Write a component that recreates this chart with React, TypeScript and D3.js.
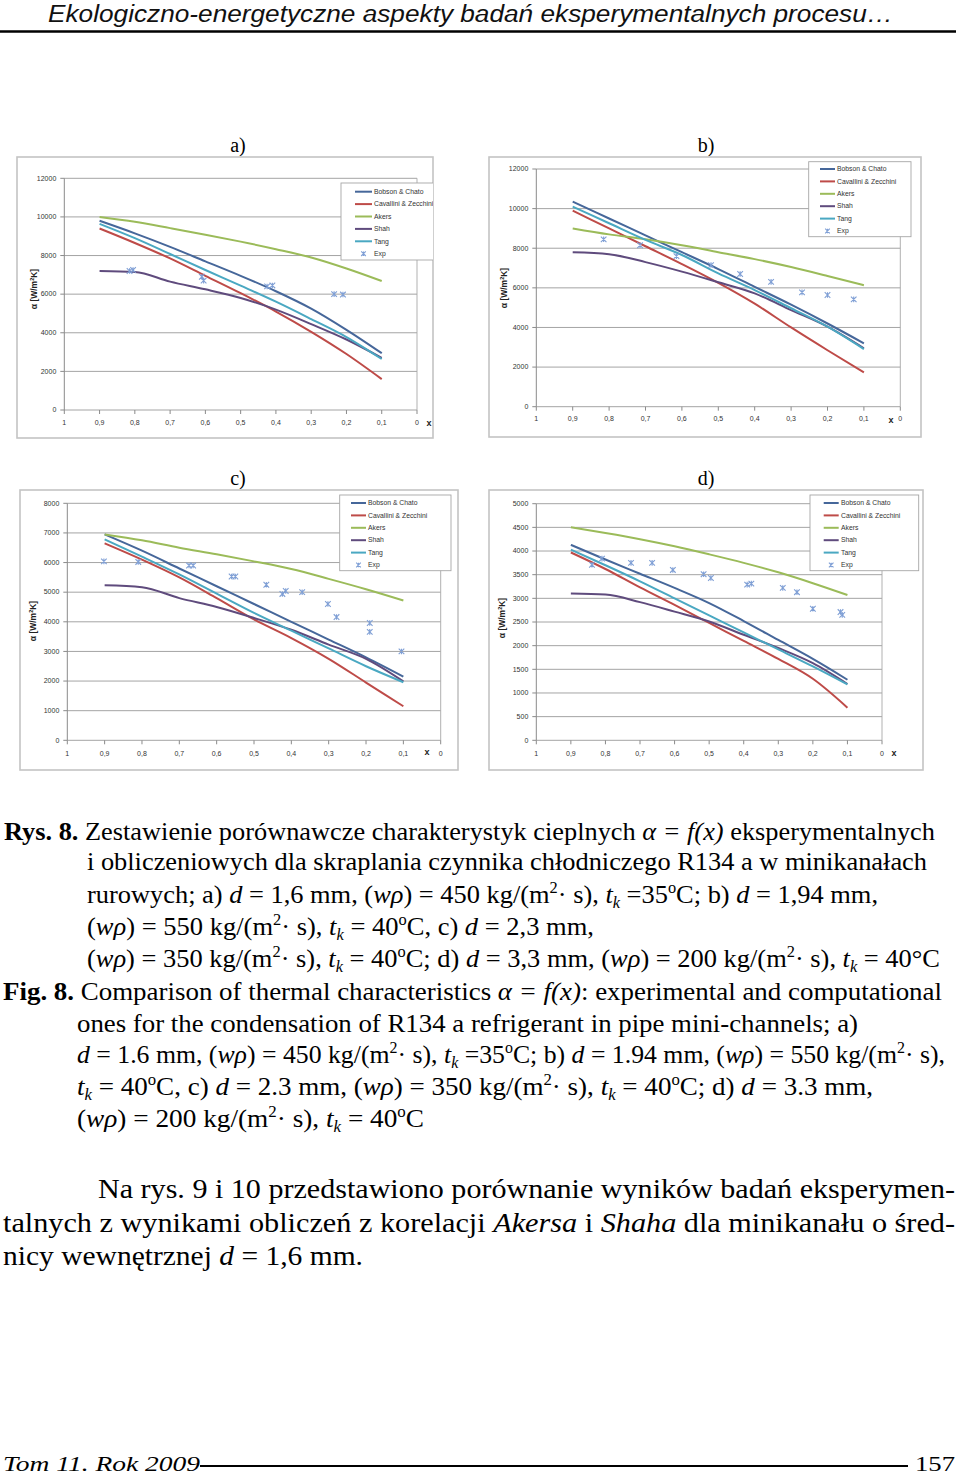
import React from "react";
import * as d3 from "d3";

// ---------- data ----------
const X_VALUES = [0.9, 0.8, 0.7, 0.6, 0.5, 0.4, 0.3, 0.2, 0.1];
const X_TICKS = [1, 0.9, 0.8, 0.7, 0.6, 0.5, 0.4, 0.3, 0.2, 0.1, 0];
const X_TICK_LABELS = ["1", "0,9", "0,8", "0,7", "0,6", "0,5", "0,4", "0,3", "0,2", "0,1", "0"];
const SERIES_NAMES = ["Bobson & Chato", "Cavallini & Zecchini", "Akers", "Shah", "Tang"];
const EXP_NAME = "Exp";

const Y_TICKS_A = [0, 2000, 4000, 6000, 8000, 10000, 12000];
const A_BOBSON = [9800, 9150, 8450, 7700, 6950, 6150, 5250, 4150, 2940];
const A_CAVALLINI = [9400, 8650, 7850, 6950, 6050, 5100, 4050, 2900, 1600];
const A_AKERS = [10000, 9750, 9420, 9080, 8720, 8330, 7900, 7330, 6680];
const A_SHAH = [7200, 7150, 6650, 6250, 5800, 5200, 4450, 3650, 2700];
const A_TANG = [9640, 8900, 8080, 7250, 6440, 5610, 4710, 3780, 2640];
const A_EXP_X = [0.815, 0.805, 0.61, 0.605, 0.425, 0.41, 0.235, 0.21];
const A_EXP_Y = [7200, 7250, 6900, 6700, 6400, 6450, 6000, 5980];

const Y_TICKS_B = [0, 2000, 4000, 6000, 8000, 10000, 12000];
const B_BOBSON = [10350, 9500, 8650, 7800, 6950, 6050, 5150, 4200, 3200];
const B_CAVALLINI = [9900, 9000, 8100, 7200, 6250, 5200, 4000, 2850, 1730];
const B_AKERS = [9000, 8700, 8450, 8150, 7800, 7450, 7050, 6600, 6130];
const B_SHAH = [7800, 7700, 7300, 6820, 6280, 5720, 4880, 4040, 2950];
const B_TANG = [10100, 9260, 8420, 7660, 6730, 5890, 4970, 4040, 2910];
const B_EXP_X = [0.815, 0.715, 0.615, 0.52, 0.44, 0.355, 0.27, 0.2, 0.128];
const B_EXP_Y = [8450, 8150, 7600, 7150, 6700, 6300, 5770, 5640, 5420];

const Y_TICKS_C = [0, 1000, 2000, 3000, 4000, 5000, 6000, 7000, 8000];
const C_BOBSON = [6950, 6400, 5800, 5200, 4600, 4000, 3400, 2800, 2150];
const C_CAVALLINI = [6650, 6100, 5500, 4800, 4080, 3450, 2750, 1950, 1150];
const C_AKERS = [6950, 6750, 6500, 6280, 6040, 5780, 5450, 5100, 4720];
const C_SHAH = [5230, 5170, 4800, 4500, 4130, 3730, 3230, 2750, 1990];
const C_TANG = [6780, 6200, 5600, 4950, 4300, 3700, 3100, 2500, 1960];
const C_EXP_X = [0.902, 0.81, 0.674, 0.663, 0.56, 0.55, 0.467, 0.424, 0.415, 0.371, 0.302, 0.279, 0.19, 0.19, 0.105];
const C_EXP_Y = [6040, 6020, 5900, 5900, 5530, 5530, 5250, 4940, 5040, 5000, 4600, 4160, 3960, 3660, 3000];

const Y_TICKS_D = [0, 500, 1000, 1500, 2000, 2500, 3000, 3500, 4000, 4500, 5000];
const D_BOBSON = [4130, 3820, 3520, 3220, 2900, 2520, 2120, 1720, 1280];
const D_CAVALLINI = [3970, 3620, 3230, 2860, 2480, 2100, 1720, 1300, 690];
const D_AKERS = [4500, 4380, 4250, 4100, 3930, 3750, 3550, 3320, 3070];
const D_SHAH = [3100, 3080, 2920, 2720, 2510, 2230, 1950, 1630, 1190];
const D_TANG = [4030, 3700, 3360, 3000, 2640, 2280, 1920, 1560, 1180];
const D_EXP_X = [0.839, 0.81, 0.726, 0.665, 0.605, 0.516, 0.495, 0.39, 0.378, 0.287, 0.246, 0.2, 0.12, 0.115];
const D_EXP_Y = [3710, 3840, 3750, 3750, 3600, 3510, 3430, 3290, 3310, 3220, 3130, 2780, 2710, 2650];

// ---------- styles ----------
const COLORS = ["#46679a", "#be4b48", "#9bbb59", "#5f4b7d", "#4aa8c2"];
const EXP_COLOR = "#7f9fd5";
const SANS = "'Liberation Sans', Arial, sans-serif";
const SERIF = "'Liberation Serif', 'Times New Roman', serif";

type Cfg = {
  id: string;
  frame: number[];
  plot: number[];
  legend: { x0: number; y0: number; x1: number; y1: number; row0: number; lx0: number; lx1: number; tx: number };
  yTicks: number[];
  series: number[][];
  expX: number[];
  expY: number[];
  yTitle: number[];
  xTitle: number[];
  xLabelY: number;
};

const CHARTS: Cfg[] = [
  {
    id: "a", frame: [17, 157, 433, 438], plot: [64.3, 178.3, 417, 410],
    legend: { x0: 341, y0: 183, x1: 440, y1: 260, row0: 191.7, lx0: 355, lx1: 372, tx: 374 },
    yTicks: Y_TICKS_A, series: [A_BOBSON, A_CAVALLINI, A_AKERS, A_SHAH, A_TANG],
    expX: A_EXP_X, expY: A_EXP_Y, yTitle: [34, 289], xTitle: [429, 423], xLabelY: 423,
  },
  {
    id: "b", frame: [489, 157, 921, 437], plot: [536.3, 169, 900.3, 406.7],
    legend: { x0: 808.7, y0: 161.7, x1: 911, y1: 236.7, row0: 169, lx0: 820, lx1: 835, tx: 837 },
    yTicks: Y_TICKS_B, series: [B_BOBSON, B_CAVALLINI, B_AKERS, B_SHAH, B_TANG],
    expX: B_EXP_X, expY: B_EXP_Y, yTitle: [504, 288], xTitle: [891, 420], xLabelY: 419,
  },
  {
    id: "c", frame: [20, 490, 458, 770], plot: [67.3, 503.3, 440.7, 740.3],
    legend: { x0: 339.7, y0: 495, x1: 451, y1: 570.7, row0: 503, lx0: 351, lx1: 366, tx: 368 },
    yTicks: Y_TICKS_C, series: [C_BOBSON, C_CAVALLINI, C_AKERS, C_SHAH, C_TANG],
    expX: C_EXP_X, expY: C_EXP_Y, yTitle: [33, 621], xTitle: [427, 752], xLabelY: 754,
  },
  {
    id: "d", frame: [489, 490, 923, 770], plot: [536.3, 503.7, 882, 740.3],
    legend: { x0: 810, y0: 495, x1: 918.7, y1: 570.7, row0: 503, lx0: 823.7, lx1: 838.7, tx: 841 },
    yTicks: Y_TICKS_D, series: [D_BOBSON, D_CAVALLINI, D_AKERS, D_SHAH, D_TANG],
    expX: D_EXP_X, expY: D_EXP_Y, yTitle: [502, 618], xTitle: [894, 753], xLabelY: 754,
  },
];

function Star({ cx, cy, s = 2.8 }: { cx: number; cy: number; s?: number }) {
  return (
    <path
      d={`M${cx - s},${cy - s}L${cx + s},${cy + s}M${cx - s},${cy + s}L${cx + s},${cy - s}M${cx},${cy - s}L${cx},${cy + s}`}
      stroke={EXP_COLOR}
      strokeWidth={1.1}
      fill="none"
    />
  );
}

function Chart({ cfg }: { cfg: Cfg }) {
  const { frame, plot, legend, yTicks } = cfg;
  const x = d3.scaleLinear().domain([1, 0]).range([plot[0], plot[2]]);
  const y = d3.scaleLinear().domain([0, d3.max(yTicks) as number]).range([plot[3], plot[1]]);
  const line = d3
    .line<number>()
    .x((_, i) => x(X_VALUES[i]))
    .y((d) => y(d))
    .curve(d3.curveMonotoneX);
  const clipId = `clip-${cfg.id}`;
  const rowStep = 12.4;
  return (
    <g>
      <defs>
        <clipPath id={clipId}>
          <rect x={frame[0]} y={frame[1]} width={frame[2] - frame[0]} height={frame[3] - frame[1]} />
        </clipPath>
      </defs>
      <rect x={frame[0]} y={frame[1]} width={frame[2] - frame[0]} height={frame[3] - frame[1]} fill="#fff" stroke="#c4c4c4" strokeWidth={1.6} />
      {/* grid */}
      {yTicks.map((t) => (
        <line key={t} x1={plot[0]} x2={plot[2]} y1={y(t)} y2={y(t)} stroke="#9a9a9a" strokeWidth={0.9} />
      ))}
      <line x1={plot[2]} x2={plot[2]} y1={plot[1]} y2={plot[3]} stroke="#a8a8a8" strokeWidth={0.9} />
      {/* y axis */}
      <line x1={plot[0]} x2={plot[0]} y1={plot[1]} y2={plot[3]} stroke="#8a8a8a" strokeWidth={1} />
      {yTicks.map((t) => (
        <g key={"yt" + t}>
          <line x1={plot[0] - 4} x2={plot[0]} y1={y(t)} y2={y(t)} stroke="#8a8a8a" strokeWidth={1} />
          <text x={plot[0] - 8} y={y(t)} dy="0.33em" textAnchor="end" fontFamily={SANS} fontSize={7} fill="#333">
            {t}
          </text>
        </g>
      ))}
      {/* x axis */}
      {X_TICKS.map((t, i) => (
        <g key={"xt" + t}>
          <line x1={x(t)} x2={x(t)} y1={plot[3]} y2={plot[3] + 4} stroke="#8a8a8a" strokeWidth={1} />
          <text x={x(t)} y={cfg.xLabelY} dy="0.33em" textAnchor="middle" fontFamily={SANS} fontSize={7} fill="#333">
            {X_TICK_LABELS[i]}
          </text>
        </g>
      ))}
      <text x={cfg.xTitle[0]} y={cfg.xTitle[1]} dy="0.33em" textAnchor="middle" fontFamily={SANS} fontWeight="bold" fontSize={9} fill="#222">
        x
      </text>
      <text
        transform={`translate(${cfg.yTitle[0]},${cfg.yTitle[1]}) rotate(-90)`}
        textAnchor="middle"
        dy="0.33em"
        fontFamily={SANS}
        fontWeight="bold"
        fontSize={8.5}
        fill="#222"
      >
        α [W/m<tspan dy={-3} fontSize={5.5}>2</tspan>
        <tspan dy={3}>K]</tspan>
      </text>
      {/* series */}
      {cfg.series.map((s, i) => (
        <path key={i} d={line(s) || ""} fill="none" stroke={COLORS[i]} strokeWidth={2} strokeLinejoin="round" />
      ))}
      {cfg.expX.map((ex, i) => (
        <Star key={"e" + i} cx={x(ex)} cy={y(cfg.expY[i])} />
      ))}
      {/* legend */}
      <g clipPath={`url(#${clipId})`}>
        <rect x={legend.x0} y={legend.y0} width={legend.x1 - legend.x0} height={legend.y1 - legend.y0} fill="#fff" stroke="#a6a6a6" strokeWidth={0.9} />
        {SERIES_NAMES.map((n, i) => {
          const ry = legend.row0 + i * rowStep;
          return (
            <g key={n}>
              <line x1={legend.lx0} x2={legend.lx1} y1={ry} y2={ry} stroke={COLORS[i]} strokeWidth={2} />
              <text x={legend.tx} y={ry} dy="0.33em" fontFamily={SANS} fontSize={6.8} fill="#333">
                {n}
              </text>
            </g>
          );
        })}
        <Star cx={(legend.lx0 + legend.lx1) / 2} cy={legend.row0 + 5 * rowStep} s={2.3} />
        <text x={legend.tx} y={legend.row0 + 5 * rowStep} dy="0.33em" fontFamily={SANS} fontSize={6.8} fill="#333">
          {EXP_NAME}
        </text>
      </g>
    </g>
  );
}

// ---------- rich text ----------
type Seg = [string, string?];
function Rich({ x, y, len, size, segs, family = SERIF }: { x: number; y: number; len: number; size: number; segs: Seg[]; family?: string }) {
  let cur = 0;
  return (
    <text x={x} y={y} textLength={len} lengthAdjust="spacingAndGlyphs" fontFamily={family} fontSize={size} fill="#000">
      {segs.map(([t, st = ""], i) => {
        const f = st.split(" ");
        const sup = f.includes("sup");
        const sub = f.includes("sub");
        const target = sup ? -size * 0.38 : sub ? size * 0.2 : 0;
        const dy = target - cur;
        cur = target;
        return (
          <tspan
            key={i}
            dy={dy !== 0 ? dy : undefined}
            fontStyle={f.includes("i") ? "italic" : undefined}
            fontWeight={f.includes("b") ? "bold" : undefined}
            fontSize={sup || sub ? size * 0.62 : undefined}
          >
            {t}
          </tspan>
        );
      })}
    </text>
  );
}

const RYS_LINES: { x: number; y: number; len: number; segs: Seg[] }[] = [
  { x: 4, y: 840, len: 931, segs: [["Rys. 8. ", "b"], ["Zestawienie porównawcze charakterystyk cieplnych "], ["α = f(x)", "i"], [" eksperymentalnych"]] },
  { x: 87, y: 870, len: 840, segs: [["i obliczeniowych dla skraplania czynnika chłodniczego R134 a w minikanałach"]] },
  {
    x: 87, y: 903, len: 791,
    segs: [["rurowych; a) "], ["d", "i"], [" = 1,6 mm, ("], ["wρ", "i"], [") = 450 kg/(m"], ["2", "sup"], ["· s), "], ["t", "i"], ["k", "i sub"], [" =35"], ["o", "sup"], ["C; b) "], ["d", "i"], [" = 1,94 mm,"]],
  },
  {
    x: 87, y: 935, len: 507,
    segs: [["("], ["wρ", "i"], [") = 550 kg/(m"], ["2", "sup"], ["· s), "], ["t", "i"], ["k", "i sub"], [" = 40"], ["o", "sup"], ["C, c) "], ["d", "i"], [" = 2,3 mm,"]],
  },
  {
    x: 87, y: 967, len: 853,
    segs: [["("], ["wρ", "i"], [") = 350 kg/(m"], ["2", "sup"], ["· s), "], ["t", "i"], ["k", "i sub"], [" = 40"], ["o", "sup"], ["C; d) "], ["d", "i"], [" = 3,3 mm, ("], ["wρ", "i"], [") = 200 kg/(m"], ["2", "sup"], ["· s), "], ["t", "i"], ["k", "i sub"], [" = 40°C"]],
  },
];

const FIG_LINES: { x: number; y: number; len: number; segs: Seg[] }[] = [
  { x: 3, y: 1000, len: 939, segs: [["Fig. 8. ", "b"], ["Comparison of thermal characteristics "], ["α = f(x)", "i"], [": experimental and computational"]] },
  { x: 77, y: 1032, len: 781, segs: [["ones for the condensation of R134 a refrigerant in pipe mini-channels; a)"]] },
  {
    x: 77, y: 1063, len: 868,
    segs: [["d", "i"], [" = 1.6 mm, ("], ["wρ", "i"], [") = 450 kg/(m"], ["2", "sup"], ["· s), "], ["t", "i"], ["k", "i sub"], [" =35"], ["o", "sup"], ["C; b) "], ["d", "i"], [" = 1.94 mm, ("], ["wρ", "i"], [") = 550 kg/(m"], ["2", "sup"], ["· s),"]],
  },
  {
    x: 77, y: 1095, len: 796,
    segs: [["t", "i"], ["k", "i sub"], [" = 40"], ["o", "sup"], ["C, c) "], ["d", "i"], [" = 2.3 mm, ("], ["wρ", "i"], [") = 350 kg/(m"], ["2", "sup"], ["· s), "], ["t", "i"], ["k", "i sub"], [" = 40"], ["o", "sup"], ["C; d) "], ["d", "i"], [" = 3.3 mm,"]],
  },
  {
    x: 77, y: 1127, len: 347,
    segs: [["("], ["wρ", "i"], [") = 200 kg/(m"], ["2", "sup"], ["· s), "], ["t", "i"], ["k", "i sub"], [" = 40"], ["o", "sup"], ["C"]],
  },
];

const PARA_LINES: { x: number; y: number; len: number; segs: Seg[] }[] = [
  { x: 98, y: 1198, len: 857, segs: [["Na rys. 9 i 10 przedstawiono porównanie wyników badań eksperymen-"]] },
  { x: 3, y: 1232, len: 952, segs: [["talnych z wynikami obliczeń z korelacji "], ["Akersa", "i"], [" i "], ["Shaha", "i"], [" dla minikanału o śred-"]] },
  { x: 3, y: 1265, len: 360, segs: [["nicy wewnętrznej "], ["d", "i"], [" = 1,6 mm."]] },
];

export default function App() {
  return (
    <svg width={960} height={1476} viewBox="0 0 960 1476" style={{ position: "absolute", left: 0, top: 0, background: "#fff" }}>
      <rect x={0} y={0} width={960} height={1476} fill="#fff" />
      {/* header */}
      <text
        x={48}
        y={22}
        textLength={845}
        lengthAdjust="spacingAndGlyphs"
        fontFamily="'Liberation Sans Narrow', 'Liberation Sans', Arial, sans-serif"
        fontStyle="italic"
        fontSize={23}
        fill="#111"
      >
        Ekologiczno-energetyczne aspekty badań eksperymentalnych procesu…
      </text>
      <line x1={0} x2={956} y1={31.5} y2={31.5} stroke="#000" strokeWidth={2.5} />

      {/* panel letters */}
      <text x={238} y={152} textAnchor="middle" fontFamily={SERIF} fontSize={20}>a)</text>
      <text x={706} y={152} textAnchor="middle" fontFamily={SERIF} fontSize={20}>b)</text>
      <text x={238} y={485} textAnchor="middle" fontFamily={SERIF} fontSize={20}>c)</text>
      <text x={706} y={485} textAnchor="middle" fontFamily={SERIF} fontSize={20}>d)</text>

      {CHARTS.map((c) => (
        <Chart key={c.id} cfg={c} />
      ))}

      {RYS_LINES.map((l, i) => (
        <Rich key={"r" + i} x={l.x} y={l.y} len={l.len} size={26} segs={l.segs} />
      ))}
      {FIG_LINES.map((l, i) => (
        <Rich key={"f" + i} x={l.x} y={l.y} len={l.len} size={26} segs={l.segs} />
      ))}
      {PARA_LINES.map((l, i) => (
        <Rich key={"p" + i} x={l.x} y={l.y} len={l.len} size={28} segs={l.segs} />
      ))}

      {/* footer */}
      <text x={3} y={1471} textLength={197} lengthAdjust="spacingAndGlyphs" fontFamily={SERIF} fontStyle="italic" fontSize={22}>
        Tom 11. Rok 2009
      </text>
      <line x1={200} x2={908} y1={1466} y2={1466} stroke="#000" strokeWidth={2} />
      <text x={915} y={1471} textLength={40} lengthAdjust="spacingAndGlyphs" fontFamily={SERIF} fontSize={22}>
        157
      </text>
    </svg>
  );
}
